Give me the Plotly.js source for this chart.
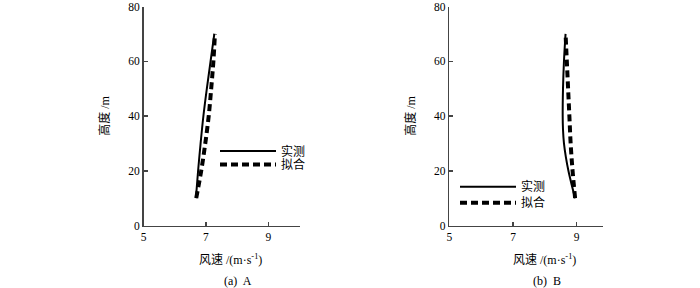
<!DOCTYPE html>
<html>
<head>
<meta charset="utf-8">
<script src="https://cdn.plot.ly/plotly-3.0.1.min.js"></script>
<style>html,body{margin:0;padding:0;background:#fff;}#chart{width:700px;height:288px;}</style>
</head>
<body>
<div id="chart"></div>
<script>
// Heights (m)
const heights = [10, 20, 30, 40, 50, 60, 70];
const heightsB = [10, 15, 20, 25, 30, 35, 40, 50, 60, 70];
// Panel A wind speed (m/s)
const measuredA = [6.68, 6.75, 6.83, 6.92, 7.03, 7.15, 7.27];
const fittedA   = [6.69, 6.85, 6.98, 7.09, 7.17, 7.24, 7.29];
// Panel B wind speed (m/s)
const measuredB = [8.95, 8.84, 8.74, 8.66, 8.60, 8.57, 8.56, 8.57, 8.60, 8.65];
const fittedB   = [8.95, 8.87, 8.81, 8.77, 8.73, 8.69, 8.65];
// Labels
const seriesNames = ['实测', '拟合'];
const xTicks = [5, 7, 9];
const yTicks = [0, 20, 40, 60, 80];
const xTitle = '风速 /(m·s<sup>-1</sup>)';
const yTitle = '高度 /m';
const captions = ['(a)  A', '(b)  B'];

const FONT = "'Liberation Serif', 'Times New Roman', 'Noto Sans CJK SC', serif";
const AXC = '#444';
const solid = {color: '#000', width: 2, shape: 'spline'};
const dashed = {color: '#000', width: 4, dash: '7px,4px', shape: 'spline'};

const traces = [
  {x: measuredA, y: heights, xaxis: 'x', yaxis: 'y', mode: 'lines', name: seriesNames[0], line: solid, legend: 'legend'},
  {x: fittedA, y: heights, xaxis: 'x', yaxis: 'y', mode: 'lines', name: seriesNames[1], line: dashed, legend: 'legend2'},
  {x: measuredB, y: heightsB, xaxis: 'x2', yaxis: 'y2', mode: 'lines', name: seriesNames[0], line: solid, legend: 'legend3'},
  {x: fittedB, y: heights, xaxis: 'x2', yaxis: 'y2', mode: 'lines', name: seriesNames[1], line: dashed, legend: 'legend4'}
];

const TOP = 6, H = 288 - TOP;
function py(p) { return 1 - (p - TOP) / H; }

function xa(domain, range, anchor) {
  return {
    domain: domain, range: range, anchor: anchor, showline: true, linecolor: AXC, linewidth: 1.5,
    ticks: 'inside', ticklen: 4, tickwidth: 1.5, tickcolor: AXC,
    tickvals: xTicks, showgrid: false, zeroline: false, ticklabeloverflow: 'allow',
    tickfont: {family: FONT, size: 11.5, color: '#000'}
  };
}
function ya(anchor) {
  return {
    domain: [py(225.5), py(6.5)], range: [0, 80], anchor: anchor, showline: true, linecolor: AXC, linewidth: 1.5,
    ticks: 'inside', ticklen: 4, tickwidth: 1.5, tickcolor: AXC,
    tickvals: yTicks, showgrid: false, zeroline: false, ticklabeloverflow: 'allow',
    tickfont: {family: FONT, size: 11.5, color: '#000'},
    title: {text: yTitle, standoff: 16, font: {family: FONT, size: 12, color: '#000'}}
  };
}

function leg(xpx, ypx) {
  return {
    x: xpx / 700, y: py(ypx), xanchor: 'left', yanchor: 'middle',
    bgcolor: 'rgba(0,0,0,0)', borderwidth: 0,
    font: {family: FONT, size: 12, color: '#000'}, itemwidth: 56
  };
}

function ann(text, xpx, ypx) {
  return {text: text, xref: 'paper', yref: 'paper', x: xpx / 700, y: py(ypx), showarrow: false,
    font: {family: FONT, size: 12, color: '#000'}, xanchor: 'center', yanchor: 'middle'};
}

const layout = {
  width: 700, height: 288,
  margin: {l: 0, r: 0, t: TOP, b: 0},
  paper_bgcolor: '#fff', plot_bgcolor: '#fff',
  showlegend: true,
  xaxis: xa([143.5 / 700, 299.5 / 700], [5, 10], 'y'),
  yaxis: ya('x'),
  xaxis2: xa([449.3 / 700, 603.3 / 700], [5, 9.835], 'y2'),
  yaxis2: ya('x2'),
  legend: leg(215, 151),
  legend2: leg(215, 164.5),
  legend3: leg(455, 186.7),
  legend4: leg(455, 202.7),
  annotations: [
    ann(xTitle, 230, 259.5),
    ann(xTitle, 544, 259.5),
    ann(captions[0], 238, 280.5),
    ann(captions[1], 547, 280.5)
  ]
};

Plotly.newPlot('chart', traces, layout, {displayModeBar: false, staticPlot: true});
</script>
</body>
</html>
